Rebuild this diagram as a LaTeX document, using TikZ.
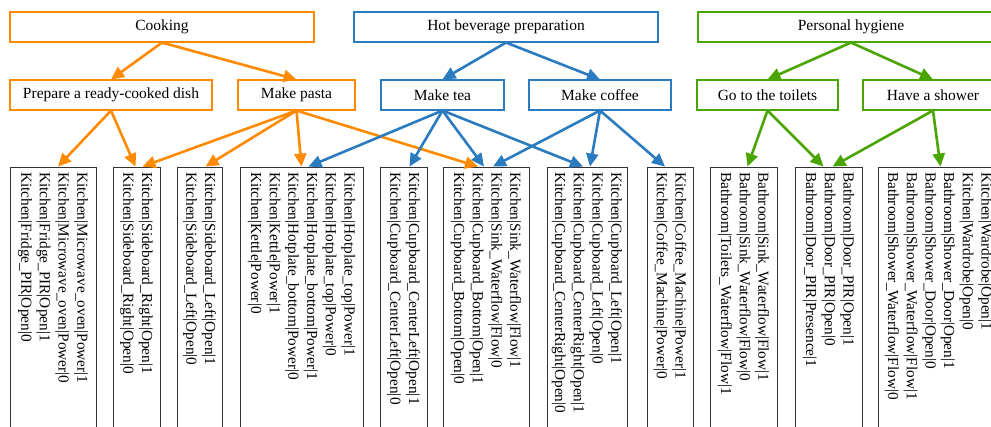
\documentclass[tikz,border=0pt]{standalone}
\usepackage{fontspec}
\setmainfont{Liberation Serif}
\usetikzlibrary{arrows.meta}
\definecolor{corange}{HTML}{FF8A00}
\definecolor{cblue}{HTML}{2B7BC0}
\definecolor{cgreen}{HTML}{4AA500}
\definecolor{cgray}{HTML}{333333}
\begin{document}
\begin{tikzpicture}[x=1pt,y=-1pt,
  tbox/.style={draw=#1, line width=1.1pt, minimum height=30pt, inner sep=0pt,
    font=\fontsize{15.5}{18}\selectfont},
  arr/.style={draw=#1, line width=2.6pt, -{Triangle[length=13pt,width=12pt]}},
  sbox/.style={draw=cgray, line width=0.9pt, rotate=-90, text width=290pt,
    inner xsep=5pt, inner ysep=0pt, align=left, minimum height=#1,
    font=\fontsize{15.3}{18.7}\selectfont}]
\clip (0,0) rectangle (991,426);
\fill[white] (0,0) rectangle (991,426);

% top level
\node[tbox=corange, minimum width=304pt] (cook) at (162,27) {Cooking};
\node[tbox=cblue, minimum width=304pt] (hot) at (506,27) {Hot beverage preparation};
\node[tbox=cgreen, minimum width=306pt] (hyg) at (851,27) {Personal hygiene};

% second level
\node[tbox=corange, minimum width=202pt] (prep) at (111,95) {Prepare a ready-cooked dish};
\node[tbox=corange, minimum width=117pt] (pasta) at (296.5,95) {Make pasta};
\node[tbox=cblue, minimum width=123pt] (tea) at (442.5,95) {Make tea};
\node[tbox=cblue, minimum width=142pt] (coffee) at (600,95) {Make coffee};
\node[tbox=cgreen, minimum width=141pt] (toil) at (767.5,95) {Go to the toilets};
\node[tbox=cgreen, minimum width=140pt] (show) at (933,95) {Have a shower};

% sensor boxes
\node[sbox=86pt] (b1) at (53,317) {Kitchen|Microwave\_oven|Power|1\\Kitchen|Microwave\_oven|Power|0\\Kitchen|Fridge\_PIR|Open|1\\Kitchen|Fridge\_PIR|Open|0};
\node[sbox=47pt] (b2) at (136.5,317) {Kitchen|Sideboard\_Right|Open|1\\Kitchen|Sideboard\_Right|Open|0};
\node[sbox=45pt] (b3) at (199.5,317) {Kitchen|Sideboard\_Left|Open|1\\Kitchen|Sideboard\_Left|Open|0};
\node[sbox=123pt] (b4) at (301.5,317) {Kitchen|Hotplate\_top|Power|1\\Kitchen|Hotplate\_top|Power|0\\Kitchen|Hotplate\_bottom|Power|1\\Kitchen|Hotplate\_bottom|Power|0\\Kitchen|Kettle|Power|1\\Kitchen|Kettle|Power|0};
\node[sbox=47pt] (b5) at (403.5,317) {Kitchen|Cupboard\_CenterLeft|Open|1\\Kitchen|Cupboard\_CenterLeft|Open|0};
\node[sbox=86pt] (b6) at (486,317) {Kitchen|Sink\_Waterflow|Flow|1\\Kitchen|Sink\_Waterflow|Flow|0\\Kitchen|Cupboard\_Bottom|Open|1\\Kitchen|Cupboard\_Bottom|Open|0};
\node[sbox=80pt] (b7) at (587,317) {Kitchen|Cupboard\_Left|Open|1\\Kitchen|Cupboard\_Left|Open|0\\Kitchen|Cupboard\_CenterRight|Open|1\\Kitchen|Cupboard\_CenterRight|Open|0};
\node[sbox=46pt] (b8) at (670,317) {Kitchen|Coffee\_Machine|Power|1\\Kitchen|Coffee\_Machine|Power|0};
\node[sbox=67pt] (b9) at (743.5,317) {Bathroom|Sink\_Waterflow|Flow|1\\Bathroom|Sink\_Waterflow|Flow|0\\Bathroom|Toilets\_Waterflow|Flow|1};
\node[sbox=67pt] (b10) at (828.5,317) {Bathroom|Door\_PIR|Open|1\\Bathroom|Door\_PIR|Open|0\\Bathroom|Door\_PIR|Presence|1};
\node[sbox=121pt] (b11) at (938.5,317) {Kitchen|Wardrobe|Open|1\\Kitchen|Wardrobe|Open|0\\Bathroom|Shower\_Door|Open|1\\Bathroom|Shower\_Door|Open|0\\Bathroom|Shower\_Waterflow|Flow|1\\Bathroom|Shower\_Waterflow|Flow|0};

% orange arrows
\draw[arr=corange] (cook.south) -- (prep.north);
\draw[arr=corange] (cook.south) -- (pasta.north);
\draw[arr=corange] (prep.south) -- ([xshift=5pt]b1.west);
\draw[arr=corange] (prep.south) -- ([xshift=-1pt]b2.west);
\draw[arr=corange] (pasta.south) -- ([xshift=6pt]b2.west);
\draw[arr=corange] (pasta.south) -- ([xshift=6pt]b3.west);
\draw[arr=corange] (pasta.south) -- (b4.west);
\draw[arr=corange] (pasta.south) -- ([xshift=-8pt]b6.west);

% blue arrows
\draw[arr=cblue] (hot.south) -- (tea.north);
\draw[arr=cblue] (hot.south) -- (coffee.north);
\draw[arr=cblue] (tea.south) -- ([xshift=7pt]b4.west);
\draw[arr=cblue] (tea.south) -- ([xshift=6pt]b5.west);
\draw[arr=cblue] (tea.south) -- ([xshift=-2pt]b6.west);
\draw[arr=cblue] (tea.south) -- ([xshift=-4pt]b7.west);
\draw[arr=cblue] (coffee.south) -- ([xshift=7pt]b6.west);
\draw[arr=cblue] (coffee.south) -- ([xshift=3pt]b7.west);
\draw[arr=cblue] (coffee.south) -- ([xshift=-5pt]b8.west);

% green arrows
\draw[arr=cgreen] (hyg.south) -- (toil.north);
\draw[arr=cgreen] (hyg.south) -- (show.north);
\draw[arr=cgreen] (toil.south) -- ([xshift=4pt]b9.west);
\draw[arr=cgreen] (toil.south) -- ([xshift=-5pt]b10.west);
\draw[arr=cgreen] (show.south) -- ([xshift=4pt]b10.west);
\draw[arr=cgreen] (show.south) -- ([xshift=2pt]b11.west);
\end{tikzpicture}
\end{document}
